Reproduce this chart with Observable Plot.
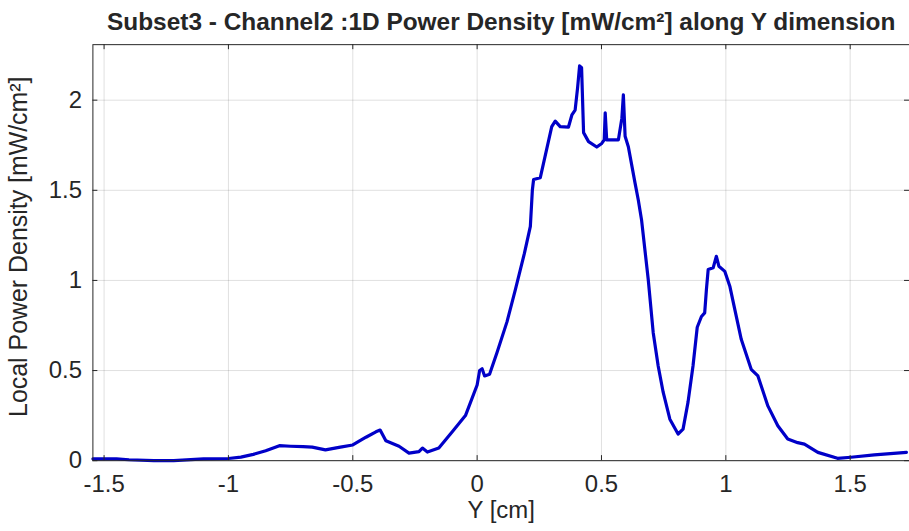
<!DOCTYPE html>
<html>
<head>
<meta charset="utf-8">
<script src="https://cdn.jsdelivr.net/npm/d3@7"></script>
<script src="https://cdn.jsdelivr.net/npm/@observablehq/plot@0.6"></script>
<style>
  html, body { margin: 0; padding: 0; background: #fff; overflow: hidden; width: 909px; height: 531px; }
  #chart svg { display: block; }
</style>
</head>
<body>
<div id="chart"></div>
<script>
// Position along Y [cm]
const yPos = [
  -1.545, -1.45, -1.4, -1.3, -1.22, -1.1, -1.0, -0.95, -0.9, -0.85, -0.795, -0.75, -0.7, -0.663, -0.61, -0.55, -0.5,
  -0.447, -0.407, -0.39, -0.367, -0.314, -0.274, -0.234, -0.22, -0.2, -0.154, -0.1, -0.047, 0,
  0.01, 0.02, 0.03, 0.05, 0.08, 0.12, 0.154, 0.19, 0.214, 0.222, 0.227, 0.254, 0.30, 0.314, 0.334, 0.367,
  0.381, 0.394, 0.404, 0.412, 0.42, 0.428, 0.448, 0.481, 0.501, 0.511, 0.515, 0.521, 0.541, 0.568, 0.582,
  0.588, 0.595, 0.608, 0.635, 0.648, 0.661, 0.688, 0.708, 0.728, 0.748, 0.775, 0.808, 0.828, 0.848, 0.868,
  0.885, 0.902, 0.915, 0.922, 0.929, 0.949, 0.962, 0.972, 0.996, 1.016, 1.036, 1.062, 1.102, 1.129, 1.169,
  1.209, 1.249, 1.289, 1.316, 1.37, 1.449, 1.503, 1.597, 1.726
];
// Local power density [mW/cm^2]
const density = [
  0.01, 0.01, 0.005, 0.0, 0.0, 0.01, 0.012, 0.02, 0.035, 0.055, 0.083, 0.08, 0.078, 0.075, 0.06, 0.075, 0.087,
  0.13, 0.16, 0.17, 0.11, 0.08, 0.042, 0.05, 0.07, 0.048, 0.07, 0.16, 0.25, 0.42,
  0.50, 0.51, 0.47, 0.48, 0.60, 0.77, 0.95, 1.15, 1.30, 1.50, 1.56, 1.57, 1.853, 1.884, 1.853, 1.85,
  1.918, 1.945, 2.07, 2.19, 2.18, 1.82, 1.77, 1.74, 1.76, 1.78, 1.93, 1.78, 1.78, 1.78, 1.90,
  2.03, 1.80, 1.742, 1.54, 1.446, 1.337, 1.005, 0.71, 0.525, 0.38, 0.23, 0.148, 0.175, 0.325, 0.525,
  0.74, 0.80, 0.82, 0.95, 1.06, 1.07, 1.134, 1.079, 1.05, 0.968, 0.839, 0.673, 0.507, 0.47, 0.304,
  0.194, 0.12, 0.10, 0.092, 0.046, 0.013, 0.019, 0.032, 0.046
];
const xTicks = [-1.5, -1, -0.5, 0, 0.5, 1, 1.5];
const yTicks = [0, 0.5, 1, 1.5, 2];
const titleText = "Subset3 - Channel2 :1D Power Density [mW/cm²] along Y dimension";
const xLabel = "Y [cm]";
const yLabel = "Local Power Density [mW/cm²]";

const data = yPos.map((x, i) => ({x, y: density[i]}));
const xDomain = [-1.545, 1.7385];
const yDomain = [0, 2.308];
const axisColor = "#262626";
const font = '"Liberation Sans", Arial, Helvetica, sans-serif';

const chart = Plot.plot({
  width: 912,
  height: 531,
  marginLeft: 92.7,
  marginRight: 0,
  marginTop: 44.3,
  marginBottom: 69.3,
  x: {domain: xDomain},
  y: {domain: yDomain},
  style: {fontFamily: font, fontSize: "24px", color: axisColor, background: "#fff", overflow: "visible"},
  marks: [
    Plot.gridX(xTicks, {stroke: axisColor, strokeOpacity: 0.15}),
    Plot.gridY(yTicks, {stroke: axisColor, strokeOpacity: 0.15}),
    Plot.line(data, {x: "x", y: "y", stroke: "#0000c8", strokeWidth: 3.2, curve: "linear"}),
    Plot.frame({stroke: axisColor, strokeWidth: 1}),
    Plot.ruleX(xTicks, {x: d => d, y1: yDomain[0], y2: yDomain[0] + 0.028, stroke: axisColor}),
    Plot.ruleX(xTicks, {x: d => d, y1: yDomain[1] - 0.028, y2: yDomain[1], stroke: axisColor}),
    Plot.ruleY(yTicks, {y: d => d, x1: xDomain[0], x2: xDomain[0] + 0.02, stroke: axisColor}),
    Plot.ruleY(yTicks, {y: d => d, x1: xDomain[1] - 0.02, x2: xDomain[1], stroke: axisColor}),
    Plot.axisX(xTicks, {tickSize: 0, tickPadding: 14, tickFormat: d => String(d), label: null, fontSize: 24}),
    Plot.axisY(yTicks, {tickSize: 0, tickPadding: 11, tickFormat: d => String(d), label: null, fontSize: 24}),
    Plot.text([xLabel], {text: d => d, frameAnchor: "bottom", textAnchor: "middle", lineAnchor: "middle", dy: 50, fontSize: 24}),
    Plot.text([yLabel], {text: d => d, frameAnchor: "left", textAnchor: "middle", lineAnchor: "middle", rotate: -90, dx: -74, dy: -6, fontSize: 25}),
    Plot.text([titleText], {text: d => d, frameAnchor: "top", textAnchor: "middle", lineAnchor: "middle", dy: -23, fontSize: 24.5, fontWeight: "bold"})
  ]
});
document.getElementById("chart").appendChild(chart);
</script>
</body>
</html>
